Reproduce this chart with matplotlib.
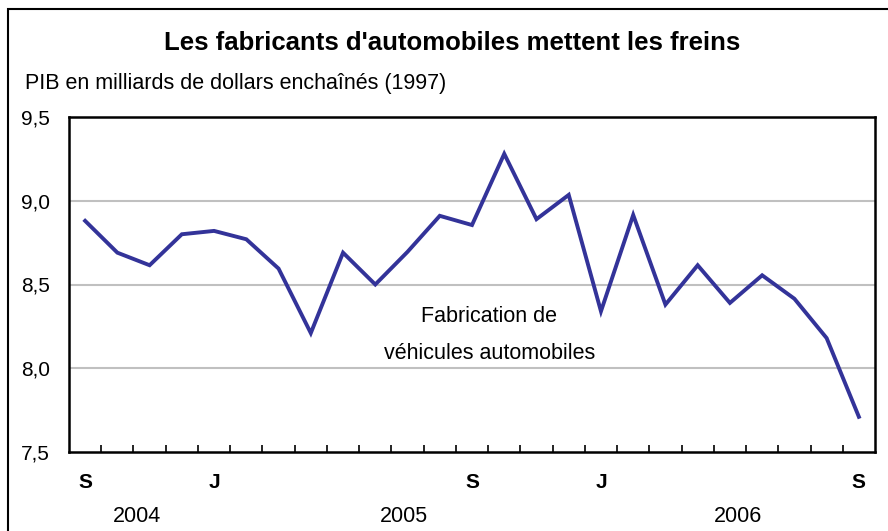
import matplotlib
matplotlib.use("Agg")
import matplotlib.pyplot as plt
from matplotlib.patches import Rectangle

plt.rcParams['font.family'] = ['Liberation Sans', 'DejaVu Sans']

months = ["S", "O", "N", "D", "J", "F", "M", "A", "M", "J", "J", "A",
          "S", "O", "N", "D", "J", "F", "M", "A", "M", "J", "J", "A", "S"]
gdp = [8.88, 8.69, 8.615, 8.80, 8.82, 8.77, 8.595, 8.21, 8.69, 8.50,
       8.695, 8.91, 8.855, 9.28, 8.89, 9.035, 8.34, 8.915, 8.38, 8.615,
       8.39, 8.555, 8.415, 8.18, 7.71]
shown_month_idx = [0, 4, 12, 16, 24]
years = ["2004", "2005", "2006"]
year_pos = [1.6, 9.9, 20.25]
yticks = [7.5, 8.0, 8.5, 9.0, 9.5]
ytick_labels = ["7,5", "8,0", "8,5", "9,0", "9,5"]

W, H = 888, 531
fig = plt.figure(figsize=(W/100, H/100), dpi=100)

# outer frame
fig.patches.append(Rectangle((8/W, -0.1), 1.2, (H-8.5)/H + 0.1, transform=fig.transFigure,
                             fill=False, edgecolor='black', linewidth=1.5))

ax = fig.add_axes([69/W, (H-452)/H, (875-69)/W, (452-117)/H])
x = list(range(len(gdp)))
ax.plot(x, gdp, color='#333399', linewidth=2.8, solid_joinstyle='miter')

ax.set_xlim(-0.5, len(gdp) - 0.5)
ax.set_ylim(7.5, 9.5)
for v in [8.0, 8.5, 9.0]:
    ax.axhline(v, color='#c0c0c0', linewidth=1.5, zorder=0)

ax.set_xticks([i + 0.5 for i in range(len(gdp) - 1)])
ax.set_xticklabels([])
ax.tick_params(axis='x', direction='in', length=5, width=1.2)
ax.set_yticks(yticks)
ax.set_yticklabels(ytick_labels, fontsize=15)
ax.tick_params(axis='y', length=0, pad=13.5)
for s in ax.spines.values():
    s.set_linewidth(1.8)

for i in shown_month_idx:
    ax.text(i, 7.5 - 31/167.5, months[i], ha='center', va='center',
            fontsize=15, fontweight='bold')
for p, yr in zip(year_pos, years):
    ax.text(p, 7.5 - 64/167.5, yr, ha='center', va='center', fontsize=15.5)

ax.text(12.54, 8.2, "Fabrication de\nvéhicules automobiles", ha='center', va='center',
        fontsize=15.5, linespacing=2.0)

fig.text(452/W, 1 - 43/H, "Les fabricants d'automobiles mettent les freins",
         ha='center', va='center', fontsize=18.5, fontweight='bold')
fig.text(25/W, 1 - 83/H, "PIB en milliards de dollars enchaînés (1997)",
         ha='left', va='center', fontsize=15.5)

fig.savefig("out.png", dpi=100)
